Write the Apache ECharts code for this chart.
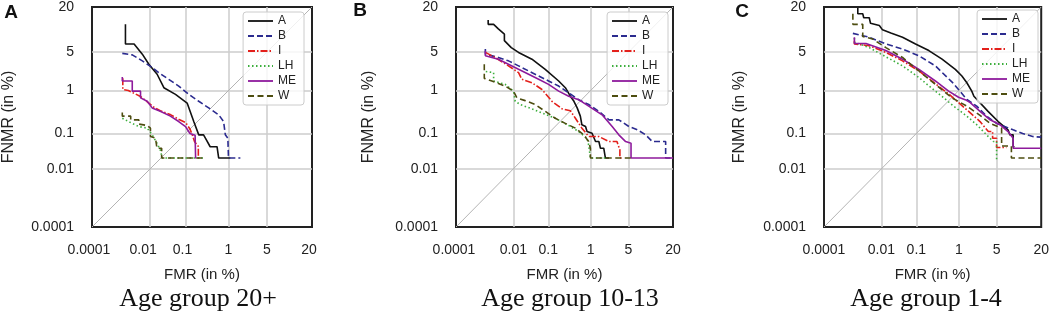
<!DOCTYPE html>
<html><head><meta charset="utf-8">
<script src="https://cdn.jsdelivr.net/npm/echarts@6/dist/echarts.min.js"></script>
<style>html,body{margin:0;padding:0;background:#fff}#c{width:1052px;height:313px}</style>
</head><body><div id="c"></div>
<script>
// ---- tick labels (percent) ----
const tickValues = [0.0001, 0.01, 0.1, 1, 5, 20];
const tickLabels = ['0.0001', '0.01', '0.1', '1', '5', '20'];
const seriesNames = ['A', 'B', 'I', 'LH', 'ME', 'W'];
const panelLetters = ['A', 'B', 'C'];
const panelCaptions = ['Age group 20+', 'Age group 10-13', 'Age group 1-4'];

// ---- data: [FMR %, FNMR %] ----
// Age group 20+
const g20_A = [[0.0016,12.5],[0.0016,6.7],[0.0031,6.7],[0.0057,4.65],[0.0091,3.15],[0.0162,2.08],[0.0255,1.14],[0.054,0.83],[0.11,0.54],[0.162,0.2],[0.215,0.092],[0.28,0.092],[0.31,0.075],[0.40,0.044],[0.57,0.044],[0.62,0.021],[1.09,0.021]];
const g20_B = [[0.00125,4.78],[0.0027,4.53],[0.0057,3.6],[0.0115,2.75],[0.018,2.23],[0.035,1.67],[0.066,1.23],[0.121,0.83],[0.215,0.59],[0.37,0.42],[0.62,0.29],[0.79,0.2],[0.86,0.092],[0.97,0.075],[1.0,0.021],[1.72,0.021]];
const g20_I = [[0.0013,1.74],[0.0013,1.05],[0.002,1.0],[0.005,0.75],[0.008,0.58],[0.012,0.45],[0.02,0.36],[0.04,0.29],[0.07,0.22],[0.1,0.19],[0.13,0.13],[0.15,0.09],[0.17,0.06],[0.21,0.045],[0.21,0.021],[0.23,0.021]];
const g20_LH = [[0.00125,0.24],[0.0027,0.18],[0.0044,0.15],[0.0081,0.137],[0.0115,0.092],[0.016,0.055],[0.020,0.036],[0.023,0.021],[0.3,0.021]];
const g20_ME = [[0.00125,1.85],[0.00125,1.55],[0.0027,1.55],[0.0027,0.97],[0.005,0.97],[0.005,0.70],[0.0081,0.59],[0.0115,0.42],[0.02,0.35],[0.039,0.27],[0.066,0.20],[0.10,0.15],[0.13,0.1],[0.175,0.09],[0.18,0.021],[0.19,0.021]];
const g20_W = [[0.00125,0.33],[0.00125,0.27],[0.0024,0.27],[0.0024,0.22],[0.0044,0.22],[0.0044,0.173],[0.0081,0.16],[0.0102,0.137],[0.0102,0.083],[0.0145,0.075],[0.016,0.04],[0.022,0.04],[0.022,0.021],[0.31,0.021]];
// Age group 10-13
const g1013_A = [[0.0015,14.2],[0.0015,12.5],[0.0023,12.5],[0.0033,10.9],[0.0052,9.3],[0.0052,7.5],[0.0086,5.9],[0.0144,4.95],[0.0356,3.84],[0.083,2.56],[0.185,1.55],[0.27,1.14],[0.355,0.76],[0.43,0.59],[0.51,0.42],[0.60,0.27],[0.65,0.166],[0.78,0.15],[0.84,0.112],[1.07,0.101],[1.26,0.061],[1.47,0.061],[1.58,0.04],[1.83,0.04],[1.97,0.021],[2.3,0.021]];
const g1013_B = [[0.0012,5.6],[0.0012,4.65],[0.0033,4.1],[0.007,3.6],[0.0144,2.95],[0.0286,2.39],[0.055,1.93],[0.102,1.55],[0.185,1.23],[0.325,0.89],[0.55,0.64],[0.91,0.5],[1.47,0.35],[2.3,0.22],[3.45,0.22],[5.1,0.15],[6.9,0.124],[9.1,0.092],[11.2,0.061],[16.5,0.061],[16.5,0.021],[20,0.021]];
const g1013_I = [[0.0012,4.96],[0.0026,4.1],[0.007,2.95],[0.0144,2.23],[0.018,1.67],[0.0356,1.43],[0.068,1.05],[0.125,0.59],[0.224,0.40],[0.355,0.36],[0.465,0.24],[0.65,0.137],[0.91,0.083],[1.47,0.083],[2.3,0.061],[3.2,0.061],[3.6,0.036],[3.6,0.021],[3.9,0.021]];
const g1013_LH = [[0.00124,2.33],[0.0023,2.23],[0.0023,1.55],[0.0055,1.33],[0.0101,0.97],[0.0114,0.59],[0.0162,0.50],[0.0356,0.40],[0.068,0.32],[0.152,0.24],[0.325,0.16],[0.55,0.112],[0.84,0.075],[0.91,0.049],[0.99,0.021],[2.0,0.021]];
const g1013_ME = [[0.0012,5.26],[0.0012,4.37],[0.0033,3.84],[0.007,3.15],[0.0144,2.56],[0.0286,2.08],[0.055,1.67],[0.102,1.33],[0.185,0.97],[0.325,0.76],[0.55,0.64],[0.91,0.46],[1.7,0.29],[2.63,0.15],[3.45,0.092],[4.5,0.061],[5.5,0.055],[5.5,0.021],[20,0.021]];
const g1013_W = [[0.0011,3.15],[0.0011,1.74],[0.002,1.55],[0.0055,1.23],[0.0101,0.97],[0.0128,0.70],[0.0228,0.61],[0.044,0.5],[0.083,0.35],[0.152,0.24],[0.27,0.18],[0.465,0.137],[0.71,0.092],[0.91,0.061],[0.99,0.04],[0.99,0.021],[6.1,0.021]];
// Age group 1-4
const g14_A = [[0.0017,19.5],[0.0017,16.8],[0.0025,16.8],[0.0027,15.1],[0.0041,15.1],[0.0045,12.9],[0.0086,12.1],[0.0108,10.6],[0.0193,9.6],[0.042,8.4],[0.095,6.7],[0.208,5.3],[0.43,3.84],[0.845,2.56],[1.16,1.93],[1.46,1.43],[1.82,0.97],[2.0,0.76],[3.6,0.35],[5.3,0.2],[7.5,0.124],[8.0,0.092],[8.9,0.092],[8.9,0.044],[9.3,0.044]];
const g14_B = [[0.00115,9.5],[0.0041,8.4],[0.0137,6.7],[0.042,5.6],[0.117,4.37],[0.30,2.95],[0.75,1.42],[1.46,0.65],[2.26,0.46],[3.4,0.27],[5.0,0.18],[6.7,0.15],[8.9,0.124],[12,0.10],[16,0.083],[20,0.08]];
const g14_I = [[0.0013,7.5],[0.0013,6.7],[0.0041,6.3],[0.0137,4.95],[0.042,3.6],[0.117,2.39],[0.30,1.37],[0.605,0.85],[0.9,0.6],[1.46,0.38],[2.6,0.2],[3.64,0.112],[4.3,0.112],[4.3,0.075],[5.0,0.075],[5.0,0.042],[7.1,0.042]];
const g14_LH = [[0.0013,8.2],[0.0013,7.1],[0.0041,5.9],[0.0137,4.2],[0.042,2.95],[0.117,1.8],[0.30,0.97],[0.47,0.70],[0.78,0.46],[1.46,0.27],[2.26,0.167],[3.4,0.092],[4.4,0.061],[5.0,0.061],[5.0,0.017]];
const g14_ME = [[0.0013,8.4],[0.0013,6.8],[0.0032,6.8],[0.0137,5.3],[0.042,3.84],[0.117,2.56],[0.30,1.55],[0.605,0.97],[0.99,0.72],[1.35,0.64],[1.7,0.55],[2.6,0.35],[3.9,0.22],[5.65,0.167],[7.5,0.112],[8.9,0.075],[8.9,0.04],[20,0.04]];
const g14_W = [[0.00115,16.8],[0.00115,12.5],[0.0025,12.5],[0.0025,8.6],[0.0053,7.9],[0.0137,5.9],[0.042,4.1],[0.117,2.39],[0.30,1.33],[0.72,0.70],[1.46,0.46],[2.6,0.28],[3.9,0.18],[6.0,0.137],[6.0,0.046],[8.4,0.046],[8.4,0.021],[20,0.021]];

const panelData = [
  {A: g20_A, B: g20_B, I: g20_I, LH: g20_LH, ME: g20_ME, W: g20_W},
  {A: g1013_A, B: g1013_B, I: g1013_I, LH: g1013_LH, ME: g1013_ME, W: g1013_W},
  {A: g14_A, B: g14_B, I: g14_I, LH: g14_LH, ME: g14_ME, W: g14_W}
];

// ---- normal deviate (probit) scale used by DET plots ----
function probit(p) {
  const a=[-3.969683028665376e+01,2.209460984245205e+02,-2.759285104469687e+02,1.383577518672690e+02,-3.066479806614716e+01,2.506628277459239e+00];
  const b=[-5.447609879822406e+01,1.615858368580409e+02,-1.556989798598866e+02,6.680131188771972e+01,-1.328068155288572e+01];
  const c=[-7.784894002430293e-03,-3.223964580411365e-01,-2.400758277161838e+00,-2.549671464901694e+00,4.374664141464968e+00,2.938163982698783e+00];
  const d=[7.784695709041462e-03,3.224671290700398e-01,2.445134137142996e+00,3.754408661907416e+00];
  const pl=0.02425, ph=1-pl; let q, r;
  if (p < pl) { q=Math.sqrt(-2*Math.log(p)); return (((((c[0]*q+c[1])*q+c[2])*q+c[3])*q+c[4])*q+c[5])/((((d[0]*q+d[1])*q+d[2])*q+d[3])*q+1); }
  if (p <= ph) { q=p-0.5; r=q*q; return (((((a[0]*r+a[1])*r+a[2])*r+a[3])*r+a[4])*r+a[5])*q/(((((b[0]*r+b[1])*r+b[2])*r+b[3])*r+b[4])*r+1); }
  q=Math.sqrt(-2*Math.log(1-p)); return -(((((c[0]*q+c[1])*q+c[2])*q+c[3])*q+c[4])*q+c[5])/((((d[0]*q+d[1])*q+d[2])*q+d[3])*q+1);
}
const T = v => probit(v / 100);
const tickPos = tickValues.map(T);
const axMin = tickPos[0], axMax = tickPos[tickPos.length - 1];
function tickIndex(v) {
  let best = 0;
  tickPos.forEach((t, i) => { if (Math.abs(t - v) < Math.abs(tickPos[best] - v)) best = i; });
  return best;
}

// ---- layout / style ----
const grids = [
  {left: 91, top: 6, width: 221, height: 221},
  {left: 456, top: 6, width: 217, height: 221},
  {left: 824, top: 6, width: 219, height: 221}
];
// small horizontal nudges (px, negative = left) of x tick labels, as in the figure
const xLabelNudge = [[-3, -7, -3, 0, 0, -3], [-2, 0, 0, 0, 0, 0], [0, 0, 0, 0, 0, 0]];
const legendPos = [{right: 748, top: 12}, {right: 384, top: 12}, {right: 14, top: 10}];
const letterPos = [[11, 13], [360, 11], [742, 12]];
const captionPos = [[198, 299], [570, 299], [926, 299]];
const styles = {
  A: {color: '#111111', type: 'solid'},
  B: {color: '#2b2b8f', type: [6, 3]},
  I: {color: '#e3201b', type: [7, 2, 1.5, 2]},
  LH: {color: '#3cae3c', type: [1.5, 2.5]},
  ME: {color: '#8e1a9c', type: 'solid'},
  W: {color: '#4d4d10', type: [6, 3.5]}
};
const FONT = 'Liberation Sans, Arial, sans-serif';

const xAxes = [], yAxes = [], series = [], legends = [], graphics = [];
const innerTicks = tickValues.slice(1, -1);
grids.forEach((g, i) => {
  const rich = {};
  xLabelNudge[i].forEach((s, k) => {
    rich['n' + k] = {fontSize: 14, color: '#222', fontFamily: FONT,
      padding: s < 0 ? [0, -2 * s, 0, 0] : [0, 0, 0, 2 * s]};
  });
  xAxes.push({
    gridIndex: i, type: 'value', min: axMin, max: axMax,
    splitLine: {show: false}, axisLine: {show: false}, axisTick: {show: false},
    axisLabel: {customValues: tickPos, fontSize: 14, color: '#222', margin: 16, fontFamily: FONT, rich: rich,
      formatter: v => { const k = tickIndex(v); return xLabelNudge[i][k] ? '{n' + k + '|' + tickLabels[k] + '}' : tickLabels[k]; }},
    name: 'FMR (in %)', nameLocation: 'middle', nameGap: 40,
    nameTextStyle: {fontSize: 15, color: '#222', fontFamily: FONT}
  });
  yAxes.push({
    gridIndex: i, type: 'value', min: axMin, max: axMax,
    splitLine: {show: false}, axisLine: {show: false}, axisTick: {show: false},
    axisLabel: {customValues: tickPos, formatter: v => tickLabels[tickIndex(v)], fontSize: 14, color: '#222', margin: 18, fontFamily: FONT},
    name: 'FNMR (in %)', nameLocation: 'middle', nameGap: [75, 79, 76][i],
    nameTextStyle: {fontSize: 16, color: '#222', fontFamily: FONT}
  });
  // diagonal reference + grid lines
  series.push({
    type: 'line', xAxisIndex: i, yAxisIndex: i, silent: true, symbol: 'none', z: 1,
    data: [[axMin, axMin], [axMax, axMax]],
    lineStyle: {color: '#b4b4b4', width: 1}, animation: false,
    markLine: {
      silent: true, symbol: ['none', 'none'], z: 1, animation: false,
      label: {show: false},
      lineStyle: {color: '#cccccc', width: 1.5, type: 'solid'},
      emphasis: {disabled: true},
      data: innerTicks.map(v => ({xAxis: T(v)})).concat(innerTicks.map(v => ({yAxis: T(v)})))
    }
  });
  seriesNames.forEach(n => {
    series.push({
      name: n, type: 'line', xAxisIndex: i, yAxisIndex: i,
      symbol: 'none', showSymbol: false, animation: false, z: 3,
      data: panelData[i][n].map(p => [T(p[0]), T(p[1])]),
      itemStyle: {color: styles[n].color},
      lineStyle: {color: styles[n].color, type: styles[n].type, width: 1.6}
    });
  });
  legends.push(Object.assign({
    data: seriesNames, orient: 'vertical', selectedMode: false,
    itemWidth: 25, itemHeight: 14, itemGap: 3, padding: [3, 8, 3, 4],
    itemStyle: {opacity: 0, borderWidth: 0},
    lineStyle: {width: 1.8},
    backgroundColor: 'rgba(255,255,255,0.8)', borderColor: '#cccccc', borderWidth: 1, borderRadius: 3,
    textStyle: {fontSize: 12, color: '#222', fontFamily: FONT}
  }, legendPos[i]));
  graphics.push({type: 'text', x: letterPos[i][0], y: letterPos[i][1],
    style: {text: panelLetters[i], fontSize: 19, fontWeight: 'bold', fontFamily: FONT, fill: '#111', align: 'center', verticalAlign: 'middle'}});
  graphics.push({type: 'text', x: captionPos[i][0], y: captionPos[i][1],
    style: {text: panelCaptions[i], fontSize: 26, fontFamily: 'Liberation Serif, Times New Roman, serif', fill: '#111', align: 'center', verticalAlign: 'middle'}});
});

const chart = echarts.init(document.getElementById('c'), null, {renderer: 'canvas'});
chart.setOption({
  backgroundColor: '#ffffff',
  animation: false,
  grid: grids.map(g => Object.assign({show: true, borderColor: '#222', borderWidth: 2, backgroundColor: 'transparent'}, g)),
  xAxis: xAxes, yAxis: yAxes, series: series, legend: legends, graphic: graphics
});
</script></body></html>
